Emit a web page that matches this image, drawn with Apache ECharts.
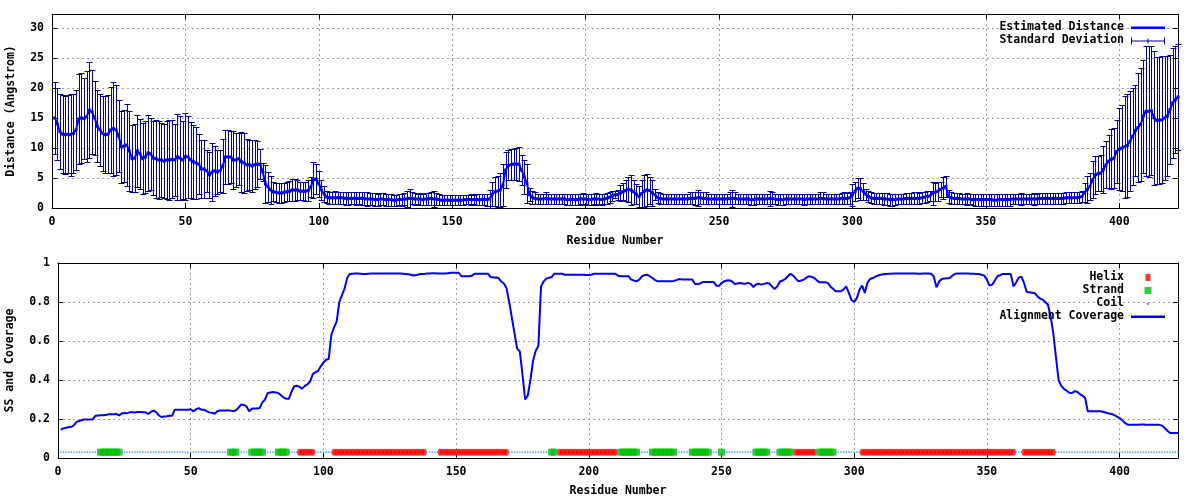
<!DOCTYPE html>
<html>
<head>
<meta charset="utf-8">
<script src="https://cdn.jsdelivr.net/npm/echarts@6/dist/echarts.min.js"></script>
<style>html,body{margin:0;padding:0;background:#fff}#c{width:1200px;height:500px}</style>
</head>
<body>
<div id="c"></div>
<script>
// Residue numbers run 1..N (index + 1)
const distance = [
15.0,14.0,12.7,12.3,12.2,12.3,12.2,12.4,13.0,14.8,
15.0,14.9,15.2,16.3,16.0,15.0,13.6,13.0,12.4,12.2,
12.3,13.0,13.2,13.0,12.0,10.2,10.3,10.5,9.5,8.2,
8.3,9.5,9.0,8.2,8.5,9.2,9.0,8.3,8.2,8.0,
8.0,7.8,8.0,8.0,8.1,8.0,8.5,8.3,8.0,8.6,
8.5,8.0,7.7,7.5,7.3,6.5,6.5,6.2,5.5,6.0,
6.2,6.0,6.2,7.0,8.5,8.5,8.5,8.0,8.0,8.2,
7.7,7.5,7.2,7.2,7.0,7.2,7.3,7.3,6.0,4.0,
3.5,3.0,2.7,2.6,2.5,2.5,2.6,2.7,2.8,3.0,
3.0,3.0,2.8,2.8,2.8,2.9,3.5,4.7,4.8,4.0,
3.0,2.3,1.8,1.7,1.7,1.7,1.7,1.7,1.7,1.6,
1.6,1.6,1.6,1.6,1.6,1.6,1.6,1.5,1.5,1.5,
1.4,1.4,1.5,1.5,1.4,1.4,1.4,1.3,1.3,1.4,
1.4,1.5,1.5,1.6,1.6,1.5,1.5,1.5,1.4,1.5,
1.5,1.6,1.5,1.5,1.4,1.3,1.3,1.3,1.3,1.3,
1.3,1.3,1.3,1.3,1.4,1.4,1.4,1.4,1.4,1.4,
1.4,1.4,1.4,1.5,2.3,2.7,2.8,3.0,3.8,6.3,
7.1,7.2,7.3,7.3,7.3,6.3,5.2,4.1,2.2,1.8,
1.6,1.5,1.5,1.5,1.6,1.5,1.5,1.5,1.5,1.5,
1.5,1.5,1.4,1.4,1.4,1.4,1.4,1.5,1.5,1.5,
1.4,1.4,1.5,1.5,1.5,1.4,1.5,1.6,1.8,2.0,
2.2,2.2,2.5,2.7,2.9,3.1,3.0,2.7,2.3,1.9,
2.4,2.8,3.0,2.9,2.5,2.2,1.7,1.6,1.5,1.5,
1.5,1.5,1.5,1.5,1.5,1.5,1.5,1.5,1.6,1.6,
1.6,1.7,1.7,1.6,1.6,1.5,1.5,1.5,1.5,1.5,
1.5,1.5,1.5,1.6,1.6,1.6,1.5,1.5,1.5,1.5,
1.5,1.4,1.4,1.5,1.5,1.5,1.5,1.5,1.6,1.6,
1.5,1.4,1.4,1.4,1.5,1.5,1.5,1.5,1.5,1.5,
1.5,1.4,1.5,1.5,1.5,1.5,1.5,1.6,1.6,1.5,
1.5,1.5,1.5,1.5,1.5,1.6,1.6,1.6,1.7,2.2,
2.8,3.3,3.2,2.8,2.3,1.9,1.7,1.6,1.6,1.6,
1.6,1.5,1.5,1.4,1.4,1.4,1.5,1.5,1.5,1.6,
1.6,1.6,1.6,1.6,1.6,1.7,1.8,1.9,2.0,2.4,
2.6,2.8,3.1,3.3,3.6,1.9,1.7,1.6,1.6,1.6,
1.5,1.5,1.5,1.5,1.4,1.4,1.4,1.4,1.4,1.4,
1.4,1.4,1.3,1.3,1.4,1.4,1.4,1.4,1.4,1.5,
1.5,1.5,1.5,1.5,1.5,1.5,1.5,1.5,1.5,1.6,
1.6,1.6,1.6,1.6,1.6,1.6,1.6,1.6,1.6,1.7,
1.7,1.7,1.7,1.7,1.8,1.9,2.6,3.1,3.6,4.7,
5.5,5.7,5.8,6.4,7.2,7.8,8.1,8.3,9.4,9.8,
10.0,10.2,10.4,11.1,11.9,12.9,13.4,13.9,15.3,16.1,
16.1,16.2,15.0,14.6,14.6,14.7,15.0,15.3,16.4,17.5,
18.0,18.5
];

const stdDev = [
6.0,6.0,6.2,6.5,6.5,6.5,6.8,6.6,6.7,7.5,
7.5,6.8,7.6,8.0,7.0,6.2,6.0,6.0,6.2,6.4,
6.5,7.2,7.8,7.5,6.0,6.0,6.0,6.8,6.7,5.6,
5.7,6.0,5.9,5.9,6.0,6.3,6.0,6.2,6.5,6.5,
6.2,6.2,6.5,6.6,6.5,6.0,7.2,7.0,6.5,7.3,
6.8,6.4,6.2,6.0,5.0,4.8,4.8,3.5,3.8,4.8,
4.2,3.6,3.5,4.5,4.5,4.5,4.3,4.8,4.5,4.3,
5.0,5.0,4.3,4.2,4.3,4.1,3.8,2.5,1.5,3.2,
2.5,2.3,1.6,1.6,1.7,1.6,1.6,1.6,1.7,1.8,
1.8,1.6,1.5,1.5,1.6,1.7,1.6,3.0,2.5,2.2,
1.6,1.3,1.0,1.0,1.0,1.1,1.0,1.0,1.0,1.1,
1.1,1.0,1.0,1.1,1.0,1.1,1.1,1.1,1.0,1.0,
1.1,1.0,1.0,1.0,1.0,1.0,1.0,0.9,0.9,0.9,
1.0,1.0,1.3,1.6,1.0,1.0,0.9,1.0,0.9,1.0,
1.0,1.1,1.4,1.0,0.9,0.8,0.8,0.8,0.8,0.8,
0.8,0.8,0.8,0.8,0.8,0.8,0.9,0.8,0.9,0.9,
0.9,0.9,1.0,1.5,2.0,2.4,2.6,2.8,3.5,3.0,
2.5,2.6,2.6,2.7,2.8,2.5,2.8,3.3,1.1,1.1,
1.0,0.9,0.9,0.9,1.0,0.9,0.9,0.9,0.9,0.9,
0.9,0.9,0.9,0.9,0.9,0.9,0.9,0.9,1.0,0.9,
0.9,0.9,0.9,1.0,0.9,0.9,0.9,0.9,0.9,0.8,
0.6,0.8,1.4,1.4,1.8,2.1,2.5,2.0,1.7,1.7,
2.2,2.7,2.7,2.3,2.1,0.9,0.9,0.9,0.9,0.9,
0.9,0.9,0.9,0.9,0.9,0.9,0.9,0.9,1.0,1.0,
1.1,1.3,1.0,1.0,1.0,0.9,0.9,0.9,0.9,0.9,
0.9,0.9,0.9,1.0,1.4,1.0,0.9,0.9,0.9,0.9,
0.9,0.9,0.9,0.9,0.9,0.9,0.9,0.9,1.2,1.0,
0.9,0.9,0.9,0.9,0.9,0.9,0.9,0.9,0.9,0.9,
0.9,0.9,0.9,0.9,0.9,0.9,0.9,1.0,1.0,0.9,
0.9,0.9,0.9,0.9,0.9,0.9,1.0,0.9,1.0,1.8,
1.6,1.7,1.8,1.4,0.9,0.9,0.9,0.9,0.9,0.9,
0.9,1.0,1.0,1.0,1.0,0.9,0.9,0.9,0.9,0.9,
0.9,0.9,1.0,1.0,0.9,0.9,0.9,0.9,0.9,1.9,
1.5,1.6,1.3,1.8,1.8,1.1,1.0,0.9,0.9,0.9,
0.9,0.9,1.0,0.9,0.9,1.0,1.0,1.0,1.0,1.0,
1.0,1.0,1.0,1.0,1.0,1.0,1.0,1.0,1.0,0.9,
0.9,0.9,1.0,0.9,0.9,0.9,0.9,1.0,0.9,0.9,
0.9,0.9,0.9,0.9,0.9,0.9,0.9,0.9,0.9,0.9,
0.9,0.9,0.9,0.9,0.9,0.9,1.6,2.2,2.3,3.1,
3.1,2.9,3.0,3.9,3.9,4.4,5.0,5.0,5.3,6.8,
7.2,8.5,8.5,8.3,8.1,7.6,9.0,9.4,9.4,10.8,
10.9,10.7,11.1,10.6,10.6,10.6,10.3,10.0,9.1,9.1,
8.9,8.8
];

const coverage = [
0.145,0.152,0.155,0.158,0.160,0.168,0.185,0.190,0.195,0.197,
0.197,0.197,0.198,0.215,0.218,0.219,0.219,0.220,0.224,0.224,
0.224,0.226,0.219,0.228,0.231,0.230,0.234,0.234,0.233,0.236,
0.236,0.235,0.234,0.226,0.236,0.243,0.235,0.218,0.210,0.213,
0.214,0.217,0.217,0.248,0.248,0.248,0.248,0.248,0.248,0.250,
0.239,0.250,0.256,0.248,0.248,0.240,0.234,0.232,0.227,0.240,
0.244,0.244,0.243,0.245,0.243,0.240,0.245,0.258,0.274,0.272,
0.265,0.240,0.253,0.254,0.254,0.256,0.285,0.300,0.333,0.336,
0.338,0.336,0.333,0.322,0.310,0.304,0.304,0.340,0.368,0.371,
0.365,0.356,0.370,0.378,0.392,0.430,0.440,0.446,0.470,0.490,
0.504,0.508,0.632,0.670,0.700,0.800,0.835,0.870,0.925,0.944,
0.945,0.946,0.946,0.945,0.944,0.944,0.945,0.946,0.946,0.946,
0.946,0.946,0.946,0.946,0.946,0.946,0.946,0.946,0.946,0.945,
0.944,0.942,0.940,0.936,0.938,0.942,0.944,0.944,0.946,0.946,
0.948,0.948,0.946,0.946,0.946,0.946,0.948,0.950,0.950,0.950,
0.950,0.932,0.932,0.932,0.932,0.935,0.945,0.945,0.945,0.945,
0.945,0.945,0.928,0.926,0.926,0.923,0.905,0.895,0.870,0.800,
0.720,0.640,0.561,0.547,0.430,0.300,0.320,0.400,0.500,0.550,
0.575,0.880,0.906,0.920,0.924,0.928,0.945,0.945,0.945,0.945,
0.940,0.940,0.940,0.940,0.940,0.940,0.940,0.940,0.938,0.938,
0.940,0.945,0.945,0.945,0.945,0.945,0.945,0.945,0.945,0.945,
0.935,0.932,0.932,0.932,0.932,0.915,0.910,0.906,0.915,0.932,
0.938,0.940,0.932,0.923,0.912,0.906,0.906,0.906,0.906,0.906,
0.906,0.908,0.912,0.918,0.916,0.916,0.916,0.916,0.915,0.892,
0.892,0.895,0.903,0.903,0.903,0.903,0.903,0.885,0.882,0.897,
0.906,0.910,0.911,0.905,0.892,0.895,0.897,0.895,0.893,0.898,
0.893,0.877,0.890,0.894,0.889,0.893,0.897,0.895,0.880,0.867,
0.880,0.905,0.910,0.918,0.932,0.945,0.935,0.920,0.906,0.910,
0.915,0.925,0.932,0.928,0.923,0.910,0.901,0.901,0.901,0.898,
0.880,0.868,0.855,0.855,0.855,0.865,0.880,0.846,0.810,0.800,
0.820,0.863,0.884,0.846,0.900,0.918,0.923,0.930,0.936,0.940,
0.942,0.944,0.945,0.945,0.946,0.946,0.946,0.946,0.946,0.946,
0.946,0.946,0.946,0.945,0.945,0.946,0.946,0.946,0.945,0.930,
0.875,0.905,0.918,0.920,0.922,0.923,0.935,0.945,0.946,0.946,
0.946,0.946,0.946,0.945,0.945,0.944,0.944,0.940,0.935,0.915,
0.884,0.889,0.910,0.932,0.938,0.944,0.944,0.944,0.944,0.880,
0.900,0.925,0.930,0.897,0.851,0.850,0.848,0.846,0.830,0.818,
0.812,0.800,0.786,0.726,0.641,0.520,0.400,0.370,0.355,0.345,
0.335,0.333,0.342,0.340,0.328,0.320,0.308,0.240,0.240,0.240,
0.240,0.240,0.240,0.236,0.232,0.228,0.226,0.220,0.212,0.205,
0.193,0.180,0.171,0.171,0.171,0.171,0.171,0.172,0.172,0.171,
0.171,0.171,0.171,0.171,0.170,0.166,0.154,0.140,0.128,0.128,
0.128,0.128
];

// Secondary structure per residue: H = helix, E = strand, C = coil
const secondary = [
"CCCCCCCCCC","CCCCCEEEEE","EEECCCCCCC","CCCCCCCCCC","CCCCCCCCCC",
"CCCCCCCCCC","CCCCEEECCC","CCEEEEECCC","CCEEEECCCC","HHHHHHCCCC",
"CCCHHHHHHH","HHHHHHHHHH","HHHHHHHHHH","HHHHHHHHCC","CCCHHHHHHH",
"HHHHHHHHHH","HHHHHHHHHC","CCCCCCCCCC","CCCCCEECHH","HHHHHHHHHH",
"HHHHHHHHHH","CEEEEEEECC","CCCEEEEEEE","EECCCCCCEE","EEEEECCCCE",
"CCCCCCCCCC","CCEEEEECCC","CEEEEECHHH","HHHHHCEEEE","EECCCCCCCC",
"CCHHHHHHHH","HHHHHHHHHH","HHHHHHHHHH","HHHHHHHHHH","HHHHHHHHHH",
"HHHHHHHHHH","CCCHHHHHHH","HHHHHCCCCC","CCCCCCCCCC","CCCCCCCCCC",
"CCCCCCCCCC","CCCCCCCCCC","CC"
].join("");
const ssLevel = 0.03;

const FONT = {fontFamily: 'DejaVu Sans Mono', fontWeight: 'bold', fontSize: 11.5, color: '#000'};
const GRIDLINE = {color: '#a0a0a0', width: 1, type: [2, 3]};

const meanData = distance.map((v, i) => [i + 1, v]);
const errData = distance.map((v, i) => [i + 1, v, stdDev[i]]);
const covData = coverage.map((v, i) => [i + 1, v]);
const helixData = [], strandData = [], coilData = [];
secondary.split('').forEach((c, i) => {
  const p = [i + 1, ssLevel];
  if (c === 'H') helixData.push(p); else if (c === 'E') strandData.push(p); else coilData.push(p);
});

function xAxisCfg(gridIndex, position, main) {
  return {
    type: 'value', gridIndex, position, min: 0, max: 422, interval: 50,
    axisLine: {show: true, onZero: false, lineStyle: {color: '#000', width: 1}},
    axisTick: {show: true, inside: true, length: 5, lineStyle: {color: '#000'}},
    axisLabel: {show: main, margin: 8, ...FONT, formatter: v => (v % 50 === 0 ? String(v) : '')},
    splitLine: {show: main, lineStyle: GRIDLINE},
    name: main ? 'Residue Number' : '', nameLocation: 'middle', nameGap: 27, nameTextStyle: FONT
  };
}
function yAxisCfg(gridIndex, position, main, max, interval, name, nameGap) {
  return {
    type: 'value', gridIndex, position, min: 0, max, interval,
    axisLine: {show: true, onZero: false, lineStyle: {color: '#000', width: 1}},
    axisTick: {show: true, inside: true, length: 5, lineStyle: {color: '#000'}},
    axisLabel: {show: main, margin: 8, ...FONT,
      formatter: v => (Math.abs(v / interval - Math.round(v / interval)) < 1e-6 ? String(+v.toFixed(2)) : '')},
    splitLine: {show: main, lineStyle: GRIDLINE},
    name: main ? name : '', nameLocation: 'middle', nameGap, nameTextStyle: FONT
  };
}

const option = {
  animation: false,
  backgroundColor: '#fff',
  grid: [
    {left: 52, top: 14, width: 1126, height: 194, containLabel: false, outerBoundsMode: 'none'},
    {left: 58, top: 263, width: 1120, height: 195, containLabel: false, outerBoundsMode: 'none'}
  ],
  xAxis: [
    xAxisCfg(0, 'bottom', true), xAxisCfg(0, 'top', false),
    xAxisCfg(1, 'bottom', true), xAxisCfg(1, 'top', false)
  ],
  yAxis: [
    yAxisCfg(0, 'left', true, 32.3, 5, 'Distance (Angstrom)', 35),
    yAxisCfg(0, 'right', false, 32.3, 5, '', 0),
    yAxisCfg(1, 'left', true, 1, 0.2, 'SS and Coverage', 42),
    yAxisCfg(1, 'right', false, 1, 0.2, '', 0)
  ],
  legend: [
    {
      orient: 'vertical', align: 'right', right: 35, top: 21, padding: 0,
      itemWidth: 34, itemHeight: 13, itemGap: 0, selectedMode: false,
      textStyle: {...FONT, lineHeight: 13, padding: [0, 2, 0, 0]},
      data: [
        {name: 'Estimated Distance', icon: 'path://M0,0M34,13M0,5.5h34v2.4h-34z'},
        {name: 'Standard Deviation', icon: 'path://M0,0M34,13M0,3.5h1v7h-1zM0,6.5h34v1h-34zM33,3.5h1v7h-1zM16.5,4.5h1v5h-1z'}
      ]
    },
    {
      orient: 'vertical', align: 'right', right: 35, top: 271, padding: 0,
      itemWidth: 34, itemHeight: 13, itemGap: 0, selectedMode: false,
      textStyle: {...FONT, lineHeight: 13, padding: [0, 2, 0, 0]},
      data: [
        {name: 'Helix', icon: 'path://M0,0M34,13M14.5,3h5v7h-5z'},
        {name: 'Strand', icon: 'path://M0,0M34,13M13.5,3h7v7h-7z'},
        {name: 'Coil', icon: 'path://M0,0M34,13M16,6h2v2h-2z'},
        {name: 'Alignment Coverage', icon: 'path://M0,0M34,13M0,5.5h34v2.4h-34z'}
      ]
    }
  ],
  series: [
    {
      name: 'Standard Deviation', type: 'custom', xAxisIndex: 0, yAxisIndex: 0,
      data: errData, encode: {x: 0, y: 1}, z: 2, silent: true, clip: false,
      itemStyle: {color: '#0000a0'},
      renderItem: function (params, api) {
        const x = api.value(0), m = api.value(1), s = api.value(2);
        const top = api.coord([x, m + s]);
        const bot = api.coord([x, m - s]);
        const px = Math.round(top[0]) + 0.5;
        const yt = Math.round(top[1]) + 0.5;
        const yb = Math.round(bot[1]) + 0.5;
        const st = {stroke: '#0000a0', lineWidth: 1, fill: null};
        return {type: 'group', children: [
          {type: 'line', shape: {x1: px, y1: yt, x2: px, y2: yb}, style: st},
          {type: 'line', shape: {x1: px - 3, y1: yt, x2: px + 3, y2: yt}, style: st},
          {type: 'line', shape: {x1: px - 3, y1: yb, x2: px + 3, y2: yb}, style: st}
        ]};
      }
    },
    {
      name: 'Estimated Distance', type: 'line', xAxisIndex: 0, yAxisIndex: 0,
      data: meanData, z: 3, silent: true,
      showSymbol: true, symbol: 'rect', symbolSize: 3,
      itemStyle: {color: '#0000ff'},
      lineStyle: {color: '#0000ff', width: 2}
    },
    {
      name: 'Helix', type: 'scatter', xAxisIndex: 2, yAxisIndex: 2,
      data: helixData, symbol: 'circle', symbolSize: [5, 7], silent: true,
      itemStyle: {color: '#ff0000'}, z: 2
    },
    {
      name: 'Strand', type: 'scatter', xAxisIndex: 2, yAxisIndex: 2,
      data: strandData, symbol: 'rect', symbolSize: 7, silent: true,
      itemStyle: {color: '#00c000'}, z: 2
    },
    {
      name: 'Coil', type: 'scatter', xAxisIndex: 2, yAxisIndex: 2,
      data: coilData, symbol: 'rect', symbolSize: 1.5, silent: true,
      itemStyle: {color: '#1e90ff'}, z: 2
    },
    {
      name: 'Alignment Coverage', type: 'line', xAxisIndex: 2, yAxisIndex: 2,
      data: covData, showSymbol: false, silent: true, z: 3,
      itemStyle: {color: '#0000ff'},
      lineStyle: {color: '#0000ff', width: 2}
    }
  ]
};

const chart = echarts.init(document.getElementById('c'), null, {renderer: 'canvas'});
chart.setOption(option);
</script>
</body>
</html>
